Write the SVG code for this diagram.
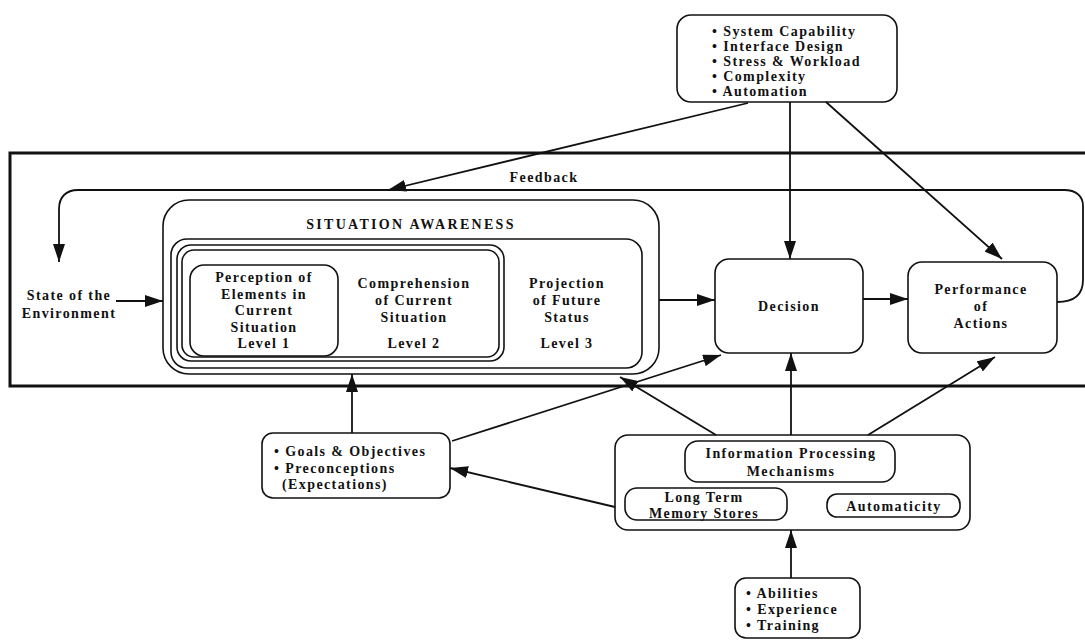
<svg xmlns="http://www.w3.org/2000/svg" width="1085" height="641" viewBox="0 0 1085 641">
  <style>
    .box { fill: none; stroke: #111; stroke-width: 1.6; }
    .frame { fill: none; stroke: #111; stroke-width: 3; }
    .ln { fill: none; stroke: #111; stroke-width: 1.8; }
    text { font-family: "Liberation Serif", "Times New Roman", serif; font-weight: bold; font-size: 14px; letter-spacing: 1.4px; fill: #111; }
    .c { text-anchor: middle; }
    .title { letter-spacing: 2.3px; }
  </style>
  <defs>
    <marker id="arrow" viewBox="0 0 18 12" refX="18" refY="6" markerWidth="18" markerHeight="12" markerUnits="userSpaceOnUse" orient="auto">
      <path d="M0,0 L18,6 L0,12 Z" fill="#111"/>
    </marker>
  </defs>
  <rect width="1085" height="641" fill="#fff"/>

  <!-- system boundary -->
  <path class="frame" d="M1090,153 L10,153 L10,386 L1090,386"/>

  <g id="factors-system">
    <rect class="box" x="677" y="15" width="220" height="87" rx="14"/>
    <text x="712" y="36">• System Capability</text>
    <text x="712" y="51">• Interface Design</text>
    <text x="712" y="66">• Stress &amp; Workload</text>
    <text x="712" y="81">• Complexity</text>
    <text x="712" y="96">• Automation</text>
  </g>

  <g id="environment">
    <text class="c" x="69" y="300">State of the</text>
    <text class="c" x="69" y="318">Environment</text>
  </g>

  <g id="situation-awareness">
    <rect class="box" x="163" y="200" width="496" height="174" rx="26"/>
    <text class="c title" x="411" y="229">SITUATION AWARENESS</text>
    <rect class="box" x="171" y="239" width="471" height="129" rx="16"/>
    <rect class="box" x="177" y="245" width="327" height="116" rx="14"/>
    <rect class="box" x="182" y="250" width="317" height="107" rx="12"/>
  </g>

  <g id="level1">
    <rect class="box" x="190" y="265" width="148" height="91" rx="14"/>
    <text class="c" x="264" y="282">Perception of</text>
    <text class="c" x="264" y="299">Elements in</text>
    <text class="c" x="264" y="315">Current</text>
    <text class="c" x="264" y="332">Situation</text>
    <text class="c" x="264" y="348">Level 1</text>
  </g>

  <g id="level2">
    <text class="c" x="414" y="288">Comprehension</text>
    <text class="c" x="414" y="305">of Current</text>
    <text class="c" x="414" y="322">Situation</text>
    <text class="c" x="414" y="348">Level 2</text>
  </g>

  <g id="level3">
    <text class="c" x="567" y="288">Projection</text>
    <text class="c" x="567" y="305">of Future</text>
    <text class="c" x="567" y="322">Status</text>
    <text class="c" x="567" y="348">Level 3</text>
  </g>

  <g id="decision">
    <rect class="box" x="715" y="259" width="148" height="94" rx="14"/>
    <text class="c" x="789" y="311">Decision</text>
  </g>

  <g id="performance">
    <rect class="box" x="908" y="262" width="149" height="91" rx="14"/>
    <text class="c" x="981" y="294">Performance</text>
    <text class="c" x="981" y="311">of</text>
    <text class="c" x="981" y="328">Actions</text>
  </g>

  <g id="goals">
    <rect class="box" x="262" y="433" width="188" height="65" rx="11"/>
    <text x="274" y="456">• Goals &amp; Objectives</text>
    <text x="274" y="473">• Preconceptions</text>
    <text x="282" y="489">(Expectations)</text>
  </g>

  <g id="individual-factors">
    <rect class="box" x="615" y="435" width="355" height="95" rx="13"/>
    <rect class="box" x="685" y="441" width="210" height="41" rx="13"/>
    <text class="c" x="791" y="458">Information Processing</text>
    <text class="c" x="791" y="476">Mechanisms</text>
    <rect class="box" x="625" y="488" width="162" height="32" rx="12"/>
    <text class="c" x="704" y="502">Long Term</text>
    <text class="c" x="704" y="518">Memory Stores</text>
    <rect class="box" x="827" y="494" width="133" height="23" rx="10"/>
    <text class="c" x="894" y="511">Automaticity</text>
  </g>

  <g id="abilities">
    <rect class="box" x="735" y="578" width="125" height="60" rx="11"/>
    <text x="746" y="598">• Abilities</text>
    <text x="746" y="614">• Experience</text>
    <text x="746" y="630">• Training</text>
  </g>

  <g id="connectors">
    <text class="c" x="544" y="182">Feedback</text>
    <path class="ln" marker-end="url(#arrow)" d="M1057,302 C1075,302 1083,294 1083,280 L1083,206 C1083,196 1076,190 1064,190 L78,190 C66,190 59,197 59,209 L59,262"/>
    <path class="ln" marker-end="url(#arrow)" d="M748,103 L388,190"/>
    <path class="ln" marker-end="url(#arrow)" d="M790,102 L790,259"/>
    <path class="ln" marker-end="url(#arrow)" d="M826,102 L1002,259"/>
    <path class="ln" marker-end="url(#arrow)" d="M116,301 L163,301"/>
    <path class="ln" marker-end="url(#arrow)" d="M659,300 L715,300"/>
    <path class="ln" marker-end="url(#arrow)" d="M863,299 L908,299"/>
    <path class="ln" marker-end="url(#arrow)" d="M352,433 L352,374"/>
    <path class="ln" marker-end="url(#arrow)" d="M452,441 L721,355"/>
    <path class="ln" marker-end="url(#arrow)" d="M716,435 L620,377"/>
    <path class="ln" marker-end="url(#arrow)" d="M791,435 L791,353"/>
    <path class="ln" marker-end="url(#arrow)" d="M868,435 L995,357"/>
    <path class="ln" marker-end="url(#arrow)" d="M615,507 L450,468"/>
    <path class="ln" marker-end="url(#arrow)" d="M791,578 L791,530"/>
  </g>
</svg>
